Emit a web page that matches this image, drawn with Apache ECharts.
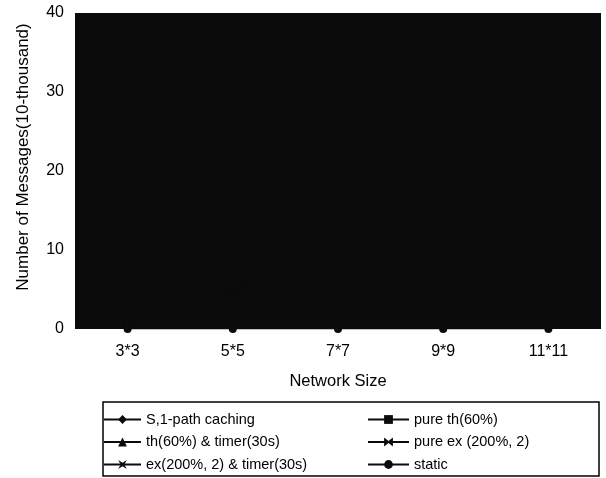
<!DOCTYPE html>
<html>
<head>
<meta charset="utf-8">
<script src="https://cdn.jsdelivr.net/npm/echarts@6/dist/echarts.min.js"></script>
<style>
html,body{margin:0;padding:0;background:#fff;}
#chart{width:606px;height:478px;}
</style>
</head>
<body>
<div id="chart"></div>
<script>
// ---- data ----
var categories = ['3*3', '5*5', '7*7', '9*9', '11*11'];
var yTicks = [0, 10, 20, 30, 40];
var seriesNames = ['S,1-path caching', 'pure th(60%)', 'th(60%) & timer(30s)', 'pure ex (200%, 2)', 'ex(200%, 2) & timer(30s)', 'static'];
var sPathCaching = [0.8, 4.5, 11, 20, 32];
var pureTh = [0.6, 3.5, 9, 17, 28];
var thTimer = [1.0, 5.0, 13, 24, 37];
var pureEx = [0.5, 3.0, 7.5, 14, 23];
var exTimer = [0.9, 4.8, 12, 22, 34];
var staticVals = [0, 0, 0, 0, 0];

var seriesData = [sPathCaching, pureTh, thTimer, pureEx, exTimer, staticVals];
var symbols = [
  'diamond',
  'rect',
  'triangle',
  'path://M0,0L5,4L10,0L10,10L5,6L0,10Z',
  'path://M0,0L5,3L10,0L7,5L10,10L5,7L0,10L3,5Z',
  'circle'
];
var lineWidths = [2, 1, 2, 2, 2, 1];

var chart = echarts.init(document.getElementById('chart'));
var font = 'Liberation Sans, Arial, sans-serif';
var ink = '#0b0b0b';

var series = seriesNames.map(function (n, i) {
  return {
    name: n,
    type: 'line',
    data: seriesData[i],
    symbol: symbols[i],
    symbolSize: 8,
    itemStyle: { color: ink },
    lineStyle: { color: ink, width: lineWidths[i] },
    z: 3
  };
});

var legendCommon = {
  orient: 'vertical',
  top: 412,
  padding: 0,
  itemHeight: 11, itemGap: 7.5,
  textStyle: { color: '#000', fontSize: 14.5, fontFamily: font },
  inactiveColor: '#000'
};

chart.setOption({
  animation: false,
  textStyle: { fontFamily: font },
  grid: {
    left: 75, right: 5, top: 13, bottom: 149,
    show: true, backgroundColor: ink, borderWidth: 0
  },
  xAxis: {
    type: 'category',
    data: categories,
    boundaryGap: true,
    axisLine: { show: false },
    axisTick: { show: false },
    axisLabel: { color: '#000', fontSize: 16, margin: 15, fontFamily: font },
    name: 'Network Size',
    nameLocation: 'middle',
    nameGap: 44,
    nameTextStyle: { color: '#000', fontSize: 16.5, fontFamily: font }
  },
  yAxis: {
    type: 'value',
    min: yTicks[0],
    max: yTicks[yTicks.length - 1],
    interval: yTicks[1] - yTicks[0],
    axisLine: { show: false },
    axisTick: { show: false },
    splitLine: { show: false },
    axisLabel: { color: '#000', fontSize: 16, margin: 11, fontFamily: font },
    name: 'Number of Messages(10-thousand)',
    nameLocation: 'middle',
    nameGap: 43,
    nameTextStyle: { color: '#000', fontSize: 17, fontFamily: font, padding: [0, 0, 0, 28] }
  },
  legend: [
    Object.assign({}, legendCommon, {
      data: [seriesNames[0], seriesNames[2], seriesNames[4]],
      left: 103, itemWidth: 37
    }),
    Object.assign({}, legendCommon, {
      data: [seriesNames[1], seriesNames[3], seriesNames[5]],
      left: 367, itemWidth: 41
    })
  ],
  graphic: [{
    type: 'rect',
    shape: { x: 103, y: 402, width: 496, height: 74 },
    style: { fill: 'none', stroke: '#000', lineWidth: 1.5 },
    silent: true
  }],
  series: series
});
</script>
</body>
</html>
